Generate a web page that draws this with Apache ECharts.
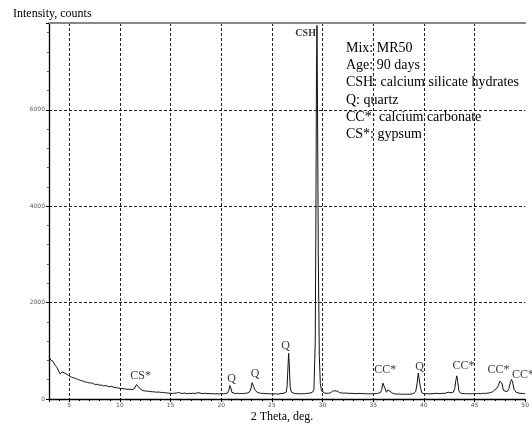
<!DOCTYPE html>
<html>
<head>
<meta charset="utf-8">
<script src="https://cdn.jsdelivr.net/npm/echarts@6/dist/echarts.min.js"></script>
<style>html,body{margin:0;padding:0;background:#fff}#c{width:532px;height:428px}</style>
</head>
<body>
<div id="c"></div>
<script>
// XRD scan: [2 theta (deg), intensity (counts)]
const scan = [
[3.0,880],[3.1,850],[3.2,800],[3.3,760],[3.4,780],[3.5,740],[3.6,700],[3.7,720],[3.8,650],[3.9,600],
[4.0,560],[4.1,520],[4.2,550],[4.3,560],[4.4,590],[4.5,540],[4.6,570],[4.7,520],[4.8,500],[4.9,490],
[5.0,470],[5.2,455],[5.4,440],[5.6,430],[5.8,410],[6.0,395],[6.2,380],[6.4,370],[6.6,350],[6.8,345],
[7.0,330],[7.2,335],[7.4,315],[7.6,300],[7.8,305],[8.0,285],[8.2,290],[8.4,270],[8.6,280],[8.8,262],
[9.0,255],[9.2,265],[9.4,240],[9.6,235],[9.8,228],[10.0,220],[10.2,215],[10.4,212],[10.6,205],[10.8,200],
[11.0,205],[11.2,195],[11.4,210],[11.55,240],[11.65,300],[11.72,335],[11.8,290],[11.9,230],[12.0,195],
[12.2,180],[12.4,170],[12.6,165],[12.8,160],[13.0,155],[13.2,150],[13.4,148],[13.6,140],[13.8,145],
[14.0,138],[14.2,135],[14.4,130],[14.6,128],[14.8,120],[15.0,118],[15.2,115],[15.4,120],[15.6,125],
[15.8,135],[16.0,120],[16.2,115],[16.4,125],[16.6,110],[16.8,118],[17.0,112],[17.2,120],[17.4,115],
[17.6,125],[17.8,130],[18.0,118],[18.2,112],[18.4,120],[18.6,110],[18.8,115],[19.0,108],[19.2,112],
[19.4,105],[19.6,110],[19.8,104],[20.0,110],[20.2,108],[20.4,112],[20.6,120],[20.75,180],[20.85,280],
[20.95,230],[21.05,140],[21.2,115],[21.4,110],[21.6,118],[21.8,112],[22.0,115],[22.2,110],[22.4,120],
[22.6,125],[22.8,150],[22.95,230],[23.05,340],[23.12,355],[23.2,260],[23.3,190],[23.45,150],[23.6,130],
[23.8,125],[24.0,115],[24.2,118],[24.4,110],[24.6,112],[24.8,105],[25.0,110],[25.2,105],[25.4,108],
[25.6,100],[25.8,110],[26.0,115],[26.2,120],[26.4,140],[26.5,260],[26.58,620],[26.65,950],[26.72,700],
[26.8,260],[26.9,150],[27.0,125],[27.2,115],[27.4,110],[27.6,112],[27.8,105],[28.0,110],[28.2,108],
[28.4,115],[28.6,118],[28.8,125],[29.0,140],[29.15,200],[29.28,1200],[29.35,4000],[29.4,6800],[29.45,7750],
[29.5,6200],[29.58,3000],[29.68,900],[29.78,320],[29.9,170],[30.0,140],[30.2,125],[30.4,118],[30.6,120],
[30.8,130],[31.0,165],[31.1,150],[31.2,170],[31.35,150],[31.5,160],[31.7,130],[31.9,125],[32.1,120],
[32.3,125],[32.5,118],[32.7,115],[32.9,120],[33.1,112],[33.3,115],[33.5,110],[33.7,118],[33.9,112],
[34.1,108],[34.3,112],[34.5,105],[34.7,110],[34.9,105],[35.1,108],[35.3,112],[35.5,120],[35.7,130],
[35.85,200],[35.95,330],[36.05,350],[36.15,230],[36.3,140],[36.45,190],[36.55,215],[36.65,160],[36.8,120],
[37.0,110],[37.2,105],[37.4,100],[37.6,104],[37.8,98],[38.0,100],[38.2,96],[38.4,102],[38.6,98],
[38.8,105],[39.0,115],[39.2,160],[39.35,350],[39.45,540],[39.55,500],[39.65,250],[39.8,130],[40.0,112],
[40.2,108],[40.4,110],[40.6,105],[40.8,112],[41.0,110],[41.2,120],[41.4,115],[41.6,110],[41.8,118],
[42.0,115],[42.2,125],[42.4,140],[42.55,150],[42.7,130],[42.9,140],[43.05,220],[43.15,380],[43.25,480],
[43.35,350],[43.45,170],[43.6,125],[43.8,115],[44.0,112],[44.2,108],[44.4,112],[44.6,105],[44.8,110],
[45.0,108],[45.2,112],[45.4,115],[45.6,110],[45.8,118],[46.0,115],[46.2,120],[46.4,125],[46.6,135],
[46.8,150],[47.0,190],[47.2,220],[47.35,280],[47.5,370],[47.6,390],[47.7,330],[47.85,180],[48.0,140],
[48.2,150],[48.4,220],[48.55,350],[48.65,405],[48.75,360],[48.9,200],[49.1,140],[49.3,125],[49.5,120],
[49.7,115],[49.9,112],[50.0,110]
];

// Peak annotations (label text and where it sits, in data units)
const peakNames   = ['CSH', 'CS*', 'Q', 'Q', 'Q', 'CC*', 'Q', 'CC*', 'CC*', 'CC*'];
const peakAngles  = [28.33, 12.05, 21.03, 23.35, 26.35, 36.2, 39.57, 43.9, 47.36, 49.78];
const peakHeights = [7582, 490, 423, 527, 1113, 595, 663, 678, 595, 491];

const legendLines = [
  'Mix: MR50',
  'Age: 90 days',
  'CSH: calcium silicate hydrates',
  'Q: quartz',
  'CC*: calcium carbonate',
  'CS*: gypsum'
];

const xMin = 3, xMax = 50, yMin = 0, yMax = 7800;

const serif = '"Liberation Serif", "Times New Roman", serif';
const chart = echarts.init(document.getElementById('c'), null, {renderer: 'canvas'});

const peakData = peakNames.map((n, i) => ({name: n, value: [peakAngles[i], peakHeights[i]]}));

const option = {
  animation: false,
  backgroundColor: '#fff',
  grid: {left: 49, right: 5, top: 23, bottom: 29, containLabel: false},
  xAxis: [{
    type: 'value', min: xMin, max: xMax, splitNumber: 10,
    axisLine: {lineStyle: {color: '#000', width: 1.3}},
    axisTick: {show: true, length: 3, lineStyle: {color: '#000'}},
    minorTick: {show: true, splitNumber: 5, length: 2, lineStyle: {color: '#000'}},
    axisLabel: {fontSize: 6, color: '#555', margin: 3, showMinLabel: false, fontFamily: 'DejaVu Sans',
      formatter: v => String(v)},
    splitLine: {show: true, showMinLine: false, showMaxLine: false, lineStyle: {color: '#222', type: [3, 2], width: 1}}
  }, {
    type: 'value', position: 'top', min: xMin, max: xMax,
    axisLine: {show: true, lineStyle: {color: '#888', width: 2}},
    axisTick: {show: false}, axisLabel: {show: false}, splitLine: {show: false}
  }],
  yAxis: {
    type: 'value', min: yMin, max: yMax, interval: 2000,
    axisLine: {show: true, lineStyle: {color: '#000', width: 1.3}},
    axisTick: {show: true, length: 3, lineStyle: {color: '#000'}},
    minorTick: {show: true, splitNumber: 5, length: 2, lineStyle: {color: '#555'}},
    axisLabel: {fontSize: 6, color: '#555', margin: 4, showMaxLabel: false, fontFamily: 'DejaVu Sans',
      formatter: v => String(v)},
    splitLine: {show: true, showMinLine: false, showMaxLine: false, lineStyle: {color: '#222', type: [3, 2], width: 1}}
  },
  series: [{
    type: 'line', data: scan, symbol: 'none', clip: true,
    lineStyle: {color: '#111', width: 1}, silent: true, z: 3
  }, {
    type: 'scatter', data: peakData, symbolSize: 1, silent: true, z: 4,
    itemStyle: {color: 'rgba(0,0,0,0)'},
    label: {
      show: true, position: 'inside', formatter: p => p.name,
      fontFamily: serif, fontSize: 12, color: '#000'
    }
  }],
  graphic: [
    {type: 'text', left: 13, top: 8, style: {text: 'Intensity, counts', font: '12px ' + serif, fill: '#000'}},
    {type: 'text', x: 282, y: 417, style: {text: '2 Theta, deg.', font: '12px ' + serif, fill: '#000', align: 'center', verticalAlign: 'middle'}}
  ].concat(legendLines.map((t, i) => ({
    type: 'text', x: 346, y: 48 + i * 17.3,
    style: {text: t, font: '14px ' + serif, fill: '#000', verticalAlign: 'middle'}
  })))
};

// CSH label is smaller and bold
option.series[1].data[0].label = {fontSize: 10, fontWeight: 'bold'};

chart.setOption(option);
</script>
</body>
</html>
